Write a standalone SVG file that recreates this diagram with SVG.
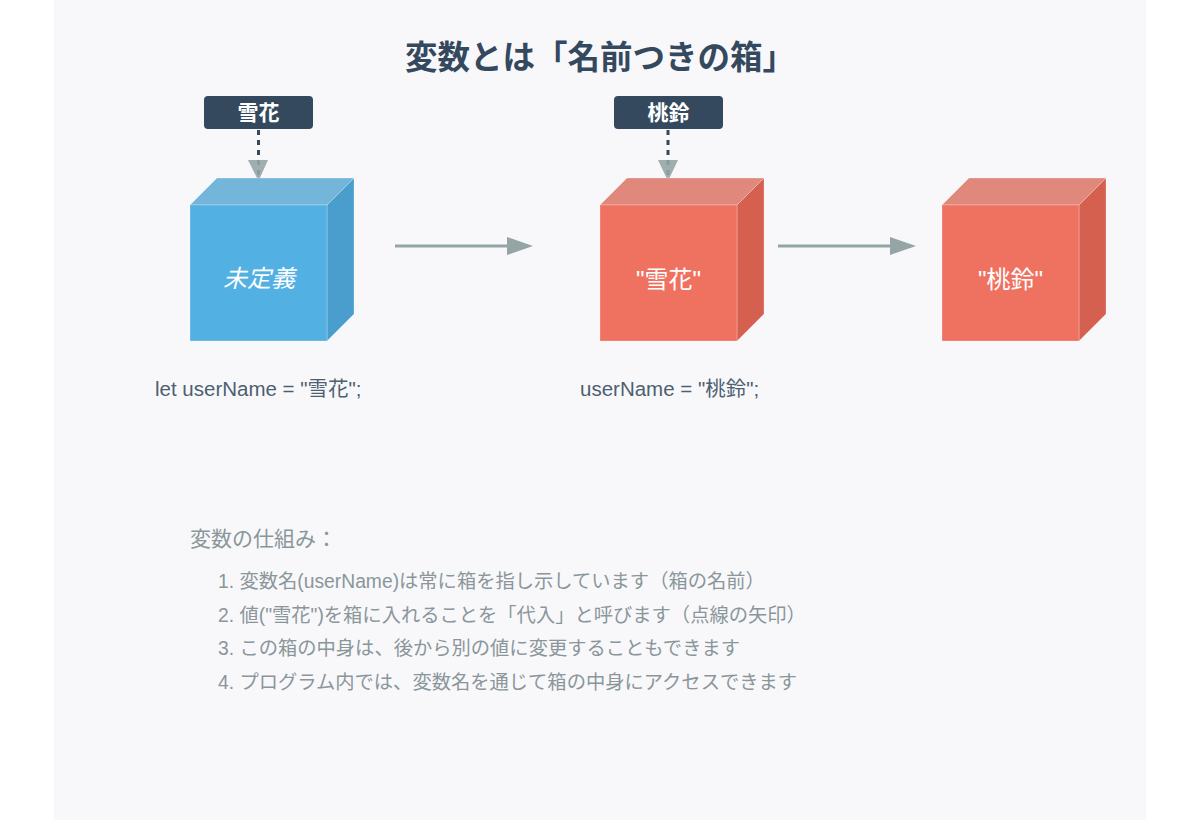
<svg xmlns="http://www.w3.org/2000/svg" width="1200" height="820" viewBox="0 0 1200 820">
  <style>
    .title{font-family:"Noto Sans CJK JP","Noto Sans",sans-serif;font-weight:700;font-size:32.5px;fill:#34495e}
    .lbl{font-family:"Noto Sans CJK JP","Noto Sans",sans-serif;font-weight:700;font-size:21px;fill:#ffffff}
    .val{font-family:"Liberation Sans","Noto Sans CJK JP",sans-serif;font-size:24px;fill:#ffffff}
    .code{font-family:"Liberation Sans","Noto Sans CJK JP",sans-serif;font-size:20.5px;fill:#4d5f70}
    .head{font-family:"Liberation Sans","Noto Sans CJK JP",sans-serif;font-size:21px;fill:#8a969a}
    .item{font-family:"Liberation Sans","Noto Sans CJK JP",sans-serif;font-size:19.3px;fill:#8a969a}
    .edge{stroke:#ffffff;stroke-opacity:0.25;stroke-width:1}
    .flow{stroke:#95a5a6;stroke-width:3;fill:none}
    .assign{stroke:#34495e;stroke-width:3;stroke-dasharray:5 5;fill:none}
    .head-tri{fill:#95a5a6}
  </style>
  <rect x="0" y="0" width="1200" height="820" fill="#ffffff"/>
  <rect x="54" y="0" width="1092" height="820" fill="#f8f8fb"/>

  <text class="title" x="600" y="69" text-anchor="middle">変数とは「名前つきの箱」</text>

  <g id="connectors">
    <line class="assign" x1="258.5" y1="130" x2="258.5" y2="186"/>
    <polygon class="head-tri" points="248,160 268,160 258.5,181" opacity="0.9"/>
    <line class="assign" x1="668" y1="130" x2="668" y2="186"/>
    <polygon class="head-tri" points="658,160 678,160 668,181" opacity="0.9"/>
    <line class="flow" x1="395" y1="246" x2="510" y2="246"/>
    <polygon class="head-tri" points="507,237 507,255 533,246"/>
    <line class="flow" x1="778" y1="246" x2="893" y2="246"/>
    <polygon class="head-tri" points="890,237 890,255 916,246"/>
  </g>

  <g id="box1">
    <polygon class="edge" points="190,205 217,178 354,178 327,205" fill="#74b5da"/>
    <polygon class="edge" points="327,205 354,178 354,314 327,341" fill="#4a9ecd"/>
    <rect class="edge" x="190" y="205" width="137" height="136" fill="#53b0e3"/>
    <text class="val" x="259" y="287" text-anchor="middle" font-style="italic" font-size="20.5">未定義</text>
  </g>

  <g id="box2">
    <polygon class="edge" points="600,205 627,178 764,178 737,205" fill="#e0887b"/>
    <polygon class="edge" points="737,205 764,178 764,314 737,341" fill="#d5604f"/>
    <rect class="edge" x="600" y="205" width="137" height="136" fill="#ef7261"/>
    <text class="val" x="668.5" y="288" text-anchor="middle">"雪花"</text>
  </g>

  <g id="box3">
    <polygon class="edge" points="942,205 969,178 1106,178 1079,205" fill="#e0887b"/>
    <polygon class="edge" points="1079,205 1106,178 1106,314 1079,341" fill="#d5604f"/>
    <rect class="edge" x="942" y="205" width="137" height="136" fill="#ef7261"/>
    <text class="val" x="1010.5" y="288" text-anchor="middle">"桃鈴"</text>
  </g>

  <g id="label1">
    <rect x="204" y="96" width="109" height="33" rx="4" fill="#34495e"/>
    <text class="lbl" x="258.5" y="120" text-anchor="middle">雪花</text>
  </g>

  <g id="label2">
    <rect x="614" y="96" width="109" height="33" rx="4" fill="#34495e"/>
    <text class="lbl" x="668.5" y="120" text-anchor="middle">桃鈴</text>
  </g>

  <g id="code1">
    <text class="code" x="155" y="396">let userName = "雪花";</text>
  </g>
  <g id="code2">
    <text class="code" x="580" y="396">userName = "桃鈴";</text>
  </g>

  <g id="notes">
    <text class="head" x="190" y="546">変数の仕組み：</text>
    <text class="item" x="218" y="588">1. 変数名(userName)は常に箱を指し示しています（箱の名前）</text>
    <text class="item" x="218" y="622">2. 値("雪花")を箱に入れることを「代入」と呼びます（点線の矢印）</text>
    <text class="item" x="218" y="655">3. この箱の中身は、後から別の値に変更することもできます</text>
    <text class="item" x="218" y="689">4. プログラム内では、変数名を通じて箱の中身にアクセスできます</text>
  </g>
</svg>
